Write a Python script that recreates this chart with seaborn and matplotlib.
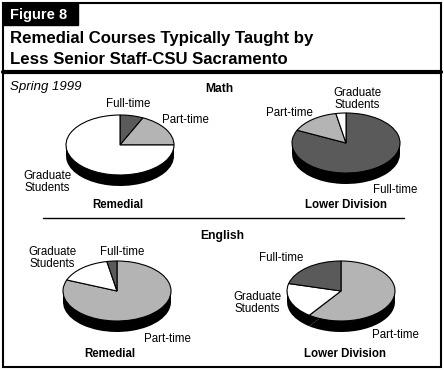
import matplotlib
matplotlib.use("Agg")
import matplotlib.pyplot as plt
import seaborn as sns
from matplotlib.patches import Rectangle
from matplotlib.lines import Line2D

# ── data (percent of sections) ──
math_labels = ["Full-time", "Part-time", "Graduate\nStudents"]
math_remedial = [7, 18, 75]
math_lower = [82, 15, 3]

english_labels = ["Part-time", "Graduate\nStudents", "Full-time"]
english_remedial = [81, 16, 3]
english_lower = [60, 19, 21]

COLORS = {"Full-time": "#5a5a5a", "Part-time": "#b4b4b4", "Graduate\nStudents": "#ffffff"}

sns.set_theme(style="white")
plt.rcParams["font.family"] = ["Liberation Sans", "DejaVu Sans"]

W, H = 444, 370
fig = plt.figure(figsize=(W / 100, H / 100), dpi=100)
fig.patch.set_facecolor("white")


def fx(px):
    return px / W


def fy(py):
    return 1 - py / H


def txt(px, py, s, **kw):
    kw.setdefault("ha", "center")
    kw.setdefault("va", "center")
    kw.setdefault("fontsize", 8.3)
    kw.setdefault("color", "black")
    fig.text(fx(px), fy(py), s, linespacing=0.9, **kw)


def pie3d(cx, cy, values, labels, rx=54, ry=30, depth=11):
    # axes box in pixels around the pie
    left, right, top, bot = cx - 62, cx + 62, cy - 38, cy + 50
    ax = fig.add_axes([fx(left), fy(bot), (right - left) / W, (bot - top) / H])
    d = depth / ry
    cols = [COLORS[l] for l in labels]
    # side of the disc
    ax.pie(values, colors=["black"] * len(values), startangle=90,
           counterclock=False, center=(0, -d), wedgeprops=dict(linewidth=0))
    ax.add_patch(Rectangle((-1, -d), 2, d, color="black", lw=0))
    # top face
    ax.pie(values, colors=cols, startangle=90, counterclock=False,
           wedgeprops=dict(edgecolor="black", linewidth=0.8))
    ax.set_aspect("auto")
    ax.set_xlim(-62 / rx, 62 / rx)
    ax.set_ylim(-50 / ry, 38 / ry)
    ax.axis("off")


# ── frame and header ──
fig.patches.append(Rectangle((fx(3), fy(367)), fx(438), 364 / H, transform=fig.transFigure,
                             fill=False, edgecolor="black", lw=1.5))
fig.patches.append(Rectangle((fx(3), fy(25)), fx(75), 22 / H, transform=fig.transFigure,
                             facecolor="black", edgecolor="black"))
fig.lines.append(Line2D([fx(3), fx(441)], [fy(72), fy(72)], transform=fig.transFigure,
                        color="black", lw=3))
fig.lines.append(Line2D([fx(43), fx(404)], [fy(218), fy(218)], transform=fig.transFigure,
                        color="black", lw=1))

txt(10, 15, "Figure 8", ha="left", fontsize=10.5, fontweight="bold", color="white")
txt(10, 39, "Remedial Courses Typically Taught by", ha="left", fontsize=12.1, fontweight="bold")
txt(10, 60, "Less Senior Staff-CSU Sacramento", ha="left", fontsize=12.1, fontweight="bold")
txt(10, 87, "Spring 1999", ha="left", fontsize=9.5, style="italic")

txt(219, 89, "Math", fontsize=8.7, fontweight="bold")
txt(222, 236, "English", fontsize=8.7, fontweight="bold")

# ── pies ──
pie3d(120, 145, math_remedial, math_labels)
pie3d(346, 143, math_lower, math_labels)
pie3d(117, 291, english_remedial, english_labels)
pie3d(341, 291, english_lower, english_labels)

# ── slice labels ──
txt(128, 104, "Full-time")
txt(185, 120, "Part-time")
txt(47, 182, "Graduate\nStudents")
txt(118, 205, "Remedial", fontweight="bold")

txt(357, 99, "Graduate\nStudents")
txt(289, 113, "Part-time")
txt(395, 190, "Full-time")
txt(346, 205, "Lower Division", fontweight="bold")

txt(52, 258, "Graduate\nStudents")
txt(122, 252, "Full-time")
txt(167, 339, "Part-time")
txt(110, 354, "Remedial", fontweight="bold")

txt(281, 258, "Full-time")
txt(257, 303, "Graduate\nStudents")
txt(395, 335, "Part-time")
txt(345, 354, "Lower Division", fontweight="bold")

fig.savefig("out.png", dpi=100)
